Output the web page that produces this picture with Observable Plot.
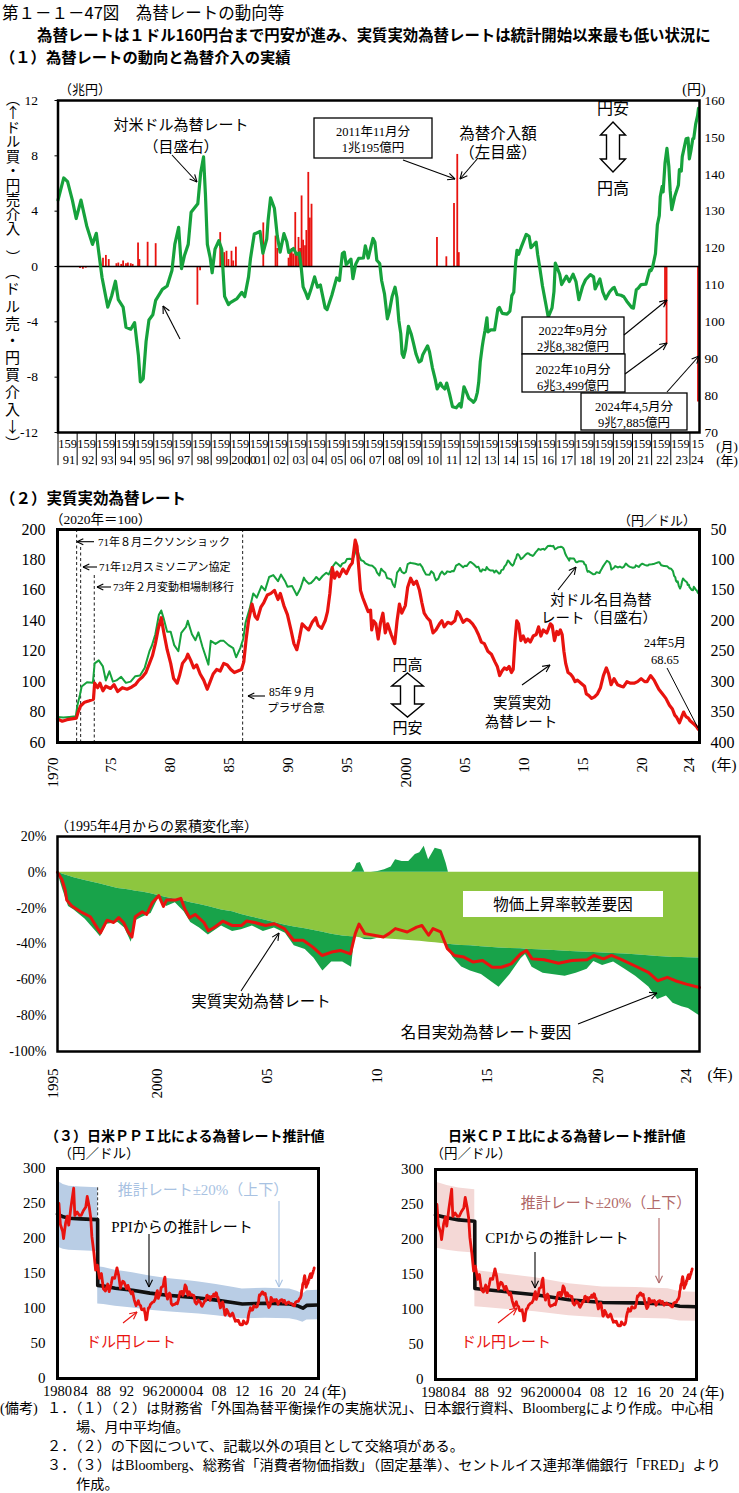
<!DOCTYPE html>
<html lang="ja"><head><meta charset="utf-8">
<script src="https://cdn.jsdelivr.net/npm/d3@7"></script>
<script src="https://cdn.jsdelivr.net/npm/@observablehq/plot@0.6"></script>
<style>
html,body{margin:0;padding:0;background:#fff;}
#root{position:relative;width:739px;height:1493px;overflow:hidden;background:#fff;}
.vt{position:absolute;writing-mode:vertical-rl;text-orientation:mixed;font-family:'Noto Sans CJK JP',sans-serif;line-height:1;white-space:nowrap;color:#000;}
.up{text-orientation:upright;}
</style></head><body><div id="root"></div>
<script>
// ================= DATA =================
// Yen per US dollar (monthly averages, year fraction, yen)
const usdJpy = [
[1970.0,358],[1970.5,359],[1971.0,358],[1971.55,357],[1971.7,338],[1971.9,322],[1972.05,308],[1972.5,301],[1973.0,302],[1973.15,270],[1973.5,265],[1973.85,275],[1974.1,298],[1974.4,283],[1974.7,300],[1975.0,298],[1975.4,292],[1975.8,302],[1976.2,300],[1976.6,291],[1977.0,290],[1977.4,277],[1977.8,250],[1978.0,241],[1978.3,222],[1978.6,190],[1978.8,183],[1979.0,196],[1979.3,218],[1979.6,218],[1979.9,240],[1980.25,250],[1980.5,220],[1980.9,210],[1981.05,200],[1981.4,222],[1981.7,232],[1981.95,219],[1982.3,243],[1982.8,272],[1983.0,233],[1983.4,238],[1983.8,233],[1984.1,233],[1984.5,240],[1984.9,245],[1985.15,260],[1985.5,245],[1985.75,230],[1985.95,203],[1986.3,180],[1986.6,155],[1986.9,162],[1987.3,143],[1987.6,150],[1987.95,128],[1988.3,125],[1988.7,135],[1988.95,124],[1989.3,135],[1989.5,144],[1989.9,143],[1990.3,158],[1990.6,147],[1990.9,129],
[1991.0,133],[1991.3,139],[1991.5,138],[1991.75,133],[1991.95,128],[1992.2,133],[1992.5,126],[1992.8,121],[1993.0,124],[1993.3,112],[1993.6,104],[1993.8,107],[1994.0,111],[1994.15,106],[1994.4,104],[1994.55,98.5],[1994.8,98],[1995.0,99.8],[1995.2,90.8],[1995.3,83.7],[1995.45,84.6],[1995.6,94.7],[1995.75,100.5],[1995.95,101.9],[1996.1,105.8],[1996.45,108.8],[1996.7,109.7],[1996.95,113.9],[1997.1,121],[1997.3,125.6],[1997.45,114.4],[1997.6,117.9],[1997.8,121],[1997.95,129.7],[1998.3,132],[1998.45,140.4],[1998.6,144.7],[1998.7,134.5],[1998.8,121],[1998.95,117.3],[1999.05,113.3],[1999.2,119.7],[1999.4,122],[1999.55,119.7],[1999.7,106.9],[1999.9,104.7],[2000.0,105.2],[2000.35,106.3],[2000.6,108],[2000.75,106.8],[2000.95,112.2],[2001.05,117.1],[2001.25,123.8],[2001.55,124.5],[2001.7,118.6],[2001.9,122.4],[2001.97,127.4],[2002.1,133.6],[2002.3,130.8],[2002.45,123.3],[2002.6,118.9],[2002.8,123.9],[2002.95,121.7],[2003.05,118.8],[2003.3,119.9],[2003.45,118.3],[2003.6,118.7],[2003.7,114.8],[2003.8,109.5],[2003.95,107.7],[2004.05,106.3],[2004.2,108.6],[2004.4,112.2],[2004.55,109.4],[2004.7,110],[2004.95,103.8],[2005.05,103.3],[2005.3,107.2],[2005.55,111.9],[2005.7,111.2],[2005.85,118.5],[2005.95,118.9],[2006.05,115.5],[2006.3,117],[2006.4,111.7],[2006.55,115.7],[2006.7,117.2],[2006.95,117.3],[2007.05,120.6],[2007.2,117.3],[2007.45,122.6],[2007.55,121.6],[2007.65,116.7],[2007.8,115.8],[2007.9,111.2],[2008.05,107.6],[2008.2,100.8],[2008.3,102.7],[2008.45,106.9],[2008.6,109.4],[2008.7,106.6],[2008.8,100.3],[2008.9,96.8],[2008.97,91.3],[2009.05,90.4],[2009.15,92.5],[2009.3,98.8],[2009.45,96.6],[2009.55,94.5],[2009.7,91.2],[2009.85,89.1],[2009.97,89.5],[2010.05,91.1],[2010.3,93.5],[2010.4,91.9],[2010.55,87.6],[2010.7,84.4],[2010.8,81.8],[2010.97,83.4],[2011.05,82.6],[2011.2,81.8],[2011.3,83.4],[2011.45,80.4],[2011.6,77],[2011.8,76.7],[2011.97,77.8],[2012.05,76.9],[2012.2,82.4],[2012.3,81.3],[2012.45,79.3],[2012.6,78.7],[2012.7,78.2],[2012.8,78.9],[2012.9,80.9],[2012.97,83.6],[2013.05,89.1],[2013.15,93.1],[2013.2,94.8],[2013.3,97.7],[2013.4,101.1],[2013.45,97.3],[2013.6,97.8],[2013.8,97.8],[2013.97,103.5],[2014.05,103.9],[2014.2,102.3],[2014.45,102.1],[2014.6,102.9],[2014.7,107.1],[2014.8,108],[2014.9,116.2],[2014.97,119.4],[2015.05,118.3],[2015.2,120.4],[2015.45,123.7],[2015.6,123.2],[2015.7,120.1],[2015.97,121.6],[2016.05,118.2],[2016.15,115],[2016.3,109.7],[2016.45,105.5],[2016.6,101.3],[2016.8,103.8],[2016.9,108.2],[2016.97,115.9],[2017.05,114.9],[2017.2,112.9],[2017.3,110.1],[2017.55,112.4],[2017.7,110.9],[2017.9,112.9],[2018.05,110.9],[2018.2,106],[2018.4,109.7],[2018.55,111.4],[2018.8,112.8],[2018.97,112.2],[2019.05,108.9],[2019.3,111.6],[2019.45,108.1],[2019.6,106.2],[2019.8,108.1],[2019.97,109.1],[2020.05,109.3],[2020.2,107.4],[2020.4,107.2],[2020.55,106.8],[2020.7,105.6],[2020.97,103.8],[2021.05,103.7],[2021.2,108.7],[2021.3,109.1],[2021.45,110.1],[2021.7,110.2],[2021.9,114],[2021.97,113.9],[2022.05,114.8],[2022.2,118.5],[2022.3,126.3],[2022.4,128.8],[2022.45,133.9],[2022.55,136.7],[2022.6,135.2],[2022.7,143.1],[2022.8,147],[2022.9,142.1],[2022.97,135.5],[2023.05,130.4],[2023.2,133.9],[2023.4,137.1],[2023.45,141.3],[2023.55,140.9],[2023.6,144.8],[2023.8,149.6],[2023.9,149.8],[2023.97,144.2],[2024.05,146.3],[2024.15,149.6],[2024.2,149.7],[2024.3,153.6],[2024.4,155.9],[2024.45,157.9]
];
// FX intervention (trillion yen, + = dollar buying / yen selling)
const intervT = [1992.15,1992.3,1992.45,1993.2,1993.35,1993.5,1993.65,1994.05,1994.15,1994.3,1994.4,1994.55,1994.65,1994.8,1994.9,1995.18,1995.25,1995.68,1996.1,1998.28,1998.42,1999.47,1999.68,1999.8,1999.9,2000.06,2000.15,2000.29,2001.72,2002.36,2002.45,2003.04,2003.12,2003.2,2003.28,2003.39,2003.47,2003.56,2003.64,2003.72,2003.8,2003.9,2003.97,2004.07,2004.15,2004.24,2010.79,2011.28,2011.68,2011.85,2011.93,2022.7,2022.78,2024.42];
const intervV = [-0.15,-0.2,-0.12,0.55,0.6,0.8,0.5,0.2,0.25,0.15,0.4,0.2,0.25,0.2,0.15,1.7,0.5,1.75,1.65,-2.8,-0.3,2.45,1.0,1.1,0.5,1.1,0.4,1.4,3.15,2.2,1.3,0.6,1.1,1.3,0.9,3.9,0.9,2.1,1.3,5.1,1.9,1.5,2.6,6.8,3.5,4.5,2.1,0.7,4.55,8.1,1.0,-2.84,-5.6,-9.79];
// Real effective exchange rate (2020 = 100)
const reer = [
[1970.0,75.5],[1970.4,74],[1970.8,75],[1971.2,75.5],[1971.6,76],[1971.75,80],[1971.95,84],[1972.3,86.5],[1972.7,87.5],[1973.05,88.5],[1973.15,99],[1973.4,96],[1973.6,99],[1973.85,94],[1974.1,97],[1974.5,95.5],[1974.8,98],[1975.1,93.5],[1975.5,96],[1975.9,95],[1976.3,96.5],[1976.6,98],[1976.9,101],[1977.2,103],[1977.5,106],[1977.8,112],[1978.05,117],[1978.3,125],[1978.55,135],[1978.8,142],[1979.0,133],[1979.3,121],[1979.6,112],[1979.85,102],[1980.15,99],[1980.35,104],[1980.6,112],[1980.9,115],[1981.05,118],[1981.3,114],[1981.55,109],[1981.8,111],[1982.1,105],[1982.4,101],[1982.7,95],[1982.95,100],[1983.2,105],[1983.5,108],[1983.8,107],[1984.1,112],[1984.4,111],[1984.7,108],[1985.0,106],[1985.3,107],[1985.6,108],[1985.8,113],[1986.0,128],[1986.2,140],[1986.5,151],[1986.75,143],[1986.95,141],[1987.25,149],[1987.5,152],[1987.8,157],[1988.1,158],[1988.4,160],[1988.7,154],[1988.9,158],[1989.2,150],[1989.5,144],[1989.8,134],[1990.05,125],[1990.3,121],[1990.5,128],[1990.75,138],[1991.0,136],[1991.3,134],[1991.6,139],[1991.9,142],[1992.1,137],[1992.4,135],[1992.7,140],[1992.9,146],[1993.1,158],[1993.3,175],[1993.5,168],[1993.7,172],[1993.9,169],[1994.2,174],[1994.5,171],[1994.8,176],[1995.0,178],[1995.25,193],[1995.4,189],[1995.55,175],[1995.7,160],[1995.9,155],[1996.1,151],[1996.35,146],[1996.55,147],[1996.65,134],[1996.8,140],[1997.0,138],[1997.2,128],[1997.4,139],[1997.6,145],[1997.8,132],[1998.0,138],[1998.3,131],[1998.6,125],[1998.8,140],[1999.0,151],[1999.2,145],[1999.5,150],[1999.7,162],[1999.95,168],[2000.2,164],[2000.45,166],[2000.7,160],[2000.9,152],[2001.1,145],[2001.35,142],[2001.6,140],[2001.85,132],[2002.1,134],[2002.4,138],[2002.6,140],[2002.8,136],[2003.1,139],[2003.4,138],[2003.7,140],[2003.9,146],[2004.1,144],[2004.4,139],[2004.7,141],[2004.95,140],[2005.2,138],[2005.45,135],[2005.7,131],[2005.95,126],[2006.2,125],[2006.5,120],[2006.8,118],[2007.1,113],[2007.3,110],[2007.5,104],[2007.7,107],[2007.9,109],[2008.1,108],[2008.3,110],[2008.5,106],[2008.65,108],[2008.8,127],[2008.95,140],[2009.1,138],[2009.3,127],[2009.5,130],[2009.7,126],[2009.9,128],[2010.1,126],[2010.35,130],[2010.6,131],[2010.8,136],[2011.0,130],[2011.2,134],[2011.5,132],[2011.8,138],[2011.95,137],[2012.15,127],[2012.35,133],[2012.5,131],[2012.65,134],[2012.8,131],[2012.95,120],[2013.1,112],[2013.3,106],[2013.5,105],[2013.7,103],[2013.9,100],[2014.1,101],[2014.4,99],[2014.7,97],[2014.85,92],[2015.05,91],[2015.3,89],[2015.55,90],[2015.8,92],[2016.05,96],[2016.3,104],[2016.55,109],[2016.75,105],[2016.95,98],[2017.2,102],[2017.5,98],[2017.8,97],[2018.0,96.5],[2018.3,100],[2018.6,99],[2018.9,99],[2019.2,100],[2019.5,102],[2019.8,100],[2020.0,100],[2020.3,104],[2020.6,101],[2020.8,98],[2021.0,95],[2021.3,92],[2021.6,89],[2021.9,84.5],[2022.15,82],[2022.35,78],[2022.5,76.7],[2022.75,73],[2022.95,77],[2023.1,80],[2023.3,77],[2023.5,76],[2023.65,74.3],[2023.85,73],[2024.0,72],[2024.2,70.5],[2024.35,68.65]
];
// Event dates (panel 2 dashed lines)
const eventT = [1971.62, 1971.96, 1973.12, 1985.7];
// Decomposition of REER change since April 1995 (%)
const ceT = [1995.25,1995.5,1995.75,1996.0,1996.5,1997.0,1997.2,1997.5,1998.0,1998.3,1998.6,1998.8,1999.1,1999.5,1999.85,2000.2,2000.6,2001.0,2001.3,2001.7,2002.1,2002.7,2003.2,2003.6,2004.1,2004.6,2005.1,2005.6,2006.0,2006.5,2006.9,2007.3,2007.7,2008.2,2008.6,2008.75,2008.85,2009.0,2009.2,2009.5,2009.8,2010.1,2010.4,2010.6,2010.9,2011.2,2011.5,2011.7,2011.9,2012.1,2012.4,2012.7,2012.9,2013.0,2013.2,2013.6,2014.0,2014.5,2015.0,2015.3,2015.8,2016.3,2016.5,2016.8,2017.3,2017.8,2018.3,2018.8,2019.3,2019.6,2020.0,2020.5,2021.0,2021.5,2022.1,2022.5,2022.9,2023.2,2023.6,2023.9,2024.4];
const cePrice = [0,-1,-2,-3,-4.5,-6,-6.5,-7.5,-9,-9.5,-10,-10.5,-11,-12,-13,-14,-15,-16,-17,-18,-19,-21,-22,-23.5,-25,-26.5,-28,-29.5,-30.5,-31.5,-32.5,-33.5,-34.5,-35.5,-36,-36,-36.2,-36.5,-36.5,-36.6,-36.8,-37,-37.3,-37.5,-37.8,-38,-38.3,-38.5,-38.8,-39,-39.3,-39.7,-40,-40.2,-40.4,-40.8,-41,-41.5,-42,-42.2,-42.5,-42.7,-42.9,-43,-43.3,-43.6,-44,-44.3,-44.6,-44.8,-45,-45.3,-45.6,-46,-46.5,-47,-47.3,-47.5,-47.6,-47.7,-47.8];
const ceNominal = [0,-9,-17,-18,-21.5,-27,-29.5,-21.5,-19,-21.5,-29,-16.5,-14,-11,-1,-5,-2,-6,-11,-13,-16,-9,-11,-8.5,-5,-6.5,-3,-4.5,-10.5,-11.5,-15.5,-21.5,-15.5,-14.5,-17,2,5,5.5,-1,-1,0.5,1.5,3,7,6,6,10,11,14.5,7,13.5,12.5,5,-3,-7,-12,-14,-15.5,-19.5,-22,-14.5,-5.5,-3,-10,-13,-13.5,-14,-12,-9.5,-5,-7,-4.7,-8.4,-12,-17.5,-24,-21.7,-25.5,-27.4,-28.3,-32.2];
const ceReal = [[1995.25,0],[1995.45,-4],[1995.6,-10],[1995.67,-15.5],[1995.9,-18.8],[1996.3,-22],[1996.74,-24.8],[1997.07,-31.4],[1997.2,-33.8],[1997.5,-26.7],[1997.8,-28],[1998.03,-25.3],[1998.25,-28],[1998.46,-33.3],[1998.63,-36.1],[1998.78,-24.8],[1999.1,-22],[1999.3,-23.5],[1999.55,-17],[1999.85,-13],[2000.06,-19],[2000.2,-15.5],[2000.6,-15.5],[2000.85,-14.5],[2001.04,-20.7],[2001.25,-25.3],[2001.5,-23.5],[2001.9,-28],[2002.1,-32.6],[2002.35,-30.9],[2002.75,-27.3],[2003.2,-29.7],[2003.6,-29.7],[2003.83,-27.2],[2004.2,-28],[2004.7,-29.7],[2005.1,-28.7],[2005.55,-31.4],[2005.97,-37.9],[2006.4,-37.9],[2006.83,-41.6],[2007.26,-46.4],[2007.7,-44.5],[2008.1,-43.6],[2008.55,-45.5],[2008.77,-34.2],[2008.94,-28.9],[2009.2,-34.2],[2009.62,-35.1],[2010.05,-36.1],[2010.3,-34.2],[2010.59,-31.4],[2011.13,-33.3],[2011.56,-30.6],[2011.8,-29.7],[2012.1,-35.1],[2012.3,-31.4],[2012.65,-33.3],[2012.95,-42.6],[2013.27,-46.4],[2013.7,-47.3],[2014.13,-50.1],[2014.55,-49.2],[2014.99,-53],[2015.4,-53],[2015.85,-51.1],[2016.28,-45.5],[2016.54,-43.6],[2016.8,-48.3],[2017.35,-48.8],[2018.0,-50.7],[2018.6,-49.2],[2019.29,-48.8],[2019.61,-46.4],[2020.04,-48.3],[2020.4,-46.4],[2020.79,-48.3],[2021.43,-52],[2022.08,-55.8],[2022.5,-60.5],[2022.94,-58.6],[2023.3,-60.5],[2023.8,-62.4],[2024.4,-64.3]];
// Estimated rates from PPI / CPI ratios (yen per dollar)
const ppiEstimate = [[1980.0,235],[1981,231],[1982,229],[1984,228],[1986.95,227],[1986.97,133],[1988,132],[1990,129],[1993,126],[1996,122],[1999,119],[2002,117],[2004.5,115],[2007.5,112],[2010.3,108.5],[2012,106.5],[2016,107.5],[2020.2,106.5],[2021.5,104],[2022.5,100.5],[2023.2,104.5],[2025.1,105]];
const cpiEstimate = [[1980.0,235],[1982,231],[1984,228],[1986.8,226],[1986.82,130],[1988,129],[1991.5,126],[1997.3,121],[2003.1,114],[2008.9,110],[2014.7,109.5],[2020.3,108],[2022.3,104.6],[2025.1,104]];
// Tick values and labels
const p1LeftTicks = [12,8,4,0,-4,-8,-12];
const p1RightTicks = [160,150,140,130,120,110,100,90,80,70];
const p1Years = d3.range(1991, 2025);
const p2LeftTicks = [200,180,160,140,120,100,80,60];
const p2RightTicks = [50,100,150,200,250,300,350,400];
const p2XTicks = [1970,1975,1980,1985,1990,1995,2000,2005,2010,2015,2020,2024];
const p2XLabels = ["1970","75","80","85","90","95","2000","05","10","15","20","24"];
const p3YTicks = [20,0,-20,-40,-60,-80,-100];
const p3XTicks = [1995.25,2000,2005,2010,2015,2020,2024];
const p3XLabels = ["1995","2000","05","10","15","20","24"];
const p45YTicks = [0,50,100,150,200,250,300];
const p45XTicks = [1980,1984,1988,1992,1996,2000,2004,2008,2012,2016,2020,2024];
const p45XLabels = ["1980","84","88","92","96","2000","04","08","12","16","20","24"];

// ================= STYLE =================
const SERIF = "'Liberation Serif','Noto Sans CJK JP',serif";
const GOTHIC = "'Noto Sans CJK JP','Noto Sans',sans-serif";
const RED = "#e8130f", GREEN = "#16a23c", LGREEN = "#8dc63f", DGREEN = "#18a34a";
const baseStyle = {fontFamily: SERIF, fontSize: "14px", color: "#000", background: "transparent", overflow: "visible"};
const root = document.getElementById("root");
function place(el, left, top) {
  const d = document.createElement("div");
  d.style.cssText = `position:absolute;left:${left}px;top:${top}px;`;
  d.appendChild(el); root.appendChild(d);
}
const yr2 = y => y === 2000 ? "2000" : String(y % 100).padStart(2, "0");

// ================= PANEL 1 =================
const yenToP1 = v => (v - 115) * 12 / 45;
const interv = intervT.map((t, i) => ({t, v: intervV[i]}));
const p1 = Plot.plot({
  width: 739, height: 397, marginTop: 20, marginBottom: 45, marginLeft: 57.5, marginRight: 40,
  style: baseStyle,
  x: {domain: [1991, 2024.5], axis: null},
  y: {domain: [-12, 12], axis: null},
  marks: [
    Plot.ruleX(interv, {x: "t", y1: 0, y2: "v", stroke: RED, strokeWidth: 1.8}),
    Plot.ruleY([0], {stroke: "#000", strokeWidth: 1.6}),
    Plot.line(usdJpy.filter(d => d[0] >= 1991), {x: d => d[0], y: d => yenToP1(d[1]), stroke: GREEN, strokeWidth: 3.2}),
    Plot.axisY({anchor: "left", label: null, ticks: p1LeftTicks, tickFormat: d => String(d), tickSize: 3, tickPadding: 17, fontSize: 13.5}),
    Plot.axisY({anchor: "right", label: null, ticks: p1RightTicks.map(yenToP1), tickFormat: d => String(Math.round(d * 45 / 12 + 115)), tickSize: 0, tickPadding: 5, fontSize: 13.5}),
    Plot.frame({stroke: "#000", strokeWidth: 2.5}),
    Plot.ruleX(d3.range(1991, 2025), {x: d => d, y1: -12, y2: -14.4, stroke: "#000", strokeWidth: 1}),
    Plot.text(p1Years.filter(d => d < 2024), {x: d => d + 0.5, y: -12.82, text: () => "159", fontSize: 12.5}),
    Plot.text([2024], {x: d => d, y: -12.82, text: () => "15", textAnchor: "start", dx: 1.5, fontSize: 12.5}),
    Plot.text(p1Years.filter(d => d !== 2000 && d < 2024), {x: d => d + 1, y: -14.02, text: yr2, textAnchor: "end", dx: -2, fontSize: 12.5}),
    Plot.text([2000, 2024], {x: d => d, y: -14.02, text: yr2, textAnchor: "start", dx: 1, fontSize: 12.5})
  ]
});
place(p1, 0, 80);

// ================= PANEL 2 =================
const yenToP2 = v => 220 - 0.4 * v;
const eventTop = [200, 188.2, 169.8, 200]; // layout: where each dashed line starts
const p2 = Plot.plot({
  width: 739, height: 283, marginTop: 20, marginBottom: 50, marginLeft: 57, marginRight: 40,
  style: baseStyle,
  x: {domain: [1970, 2024.45], axis: null},
  y: {domain: [60, 200], axis: null},
  marks: [
    Plot.ruleX(eventT, {x: d => d, y1: (d, i) => eventTop[i], y2: 60, stroke: "#333", strokeWidth: 1.1, strokeDasharray: "3,2.5"}),
    Plot.line(usdJpy, {x: d => d[0], y: d => yenToP2(d[1]), stroke: GREEN, strokeWidth: 2}),
    Plot.line(reer, {x: d => d[0], y: d => d[1], stroke: RED, strokeWidth: 3.2}),
    Plot.axisY({anchor: "left", label: null, ticks: p2LeftTicks, tickFormat: d => String(d), tickSize: 0, tickPadding: 12, fontSize: 16}),
    Plot.axisY({anchor: "right", label: null, ticks: p2RightTicks.map(yenToP2), tickFormat: d => String(Math.round((220 - d) / 0.4)), tickSize: 0, tickPadding: 11, fontSize: 16}),
    Plot.frame({stroke: "#000", strokeWidth: 3}),
    Plot.text(p2XTicks, {x: d => d, frameAnchor: "bottom", dy: 15, rotate: -90, textAnchor: "end", text: (d, i) => p2XLabels[i], fontSize: 15})
  ]
});
place(p2, 0, 509);

// ================= PANEL 3 =================
const ceTable = ceT.map((t, i) => ({t, p: cePrice[i], n: ceNominal[i]}));
const p3 = Plot.plot({
  width: 739, height: 280, marginTop: 20, marginBottom: 45, marginLeft: 57, marginRight: 40,
  style: baseStyle,
  x: {domain: [1995.25, 2024.4], axis: null},
  y: {domain: [-100, 20], axis: null},
  marks: [
    Plot.areaY(ceTable, {x: "t", y1: 0, y2: "p", fill: LGREEN}),
    Plot.areaY(ceTable, {x: "t", y1: "p", y2: d => d.p + Math.min(d.n, 0), fill: DGREEN}),
    Plot.areaY(ceTable, {x: "t", y1: 0, y2: d => Math.max(d.n, 0), fill: DGREEN}),
    Plot.line(ceReal, {x: d => d[0], y: d => d[1], stroke: RED, strokeWidth: 3}),
    Plot.axisY({anchor: "left", label: null, ticks: p3YTicks, tickFormat: d => d + "%", tickSize: 0, tickPadding: 11, fontSize: 14}),
    Plot.frame({stroke: "#000", strokeWidth: 2.5}),
    Plot.text(p3XTicks, {x: d => d, frameAnchor: "bottom", dy: 17, rotate: -90, textAnchor: "end", text: (d, i) => p3XLabels[i], fontSize: 15})
  ]
});
place(p3, 0, 816);

// ================= PANELS 4 & 5 =================
function ratePlot(estimate, bandFill, extra) {
  return Plot.plot({
    width: 330, height: 270, marginTop: 20, marginBottom: 40, marginLeft: 57, marginRight: 12,
    style: baseStyle,
    x: {domain: [1980, 2025.2], axis: null},
    y: {domain: [0, 300], axis: null},
    marks: [
      Plot.areaY(estimate, {x: d => d[0], y1: d => d[1] * 0.8, y2: d => d[1] * 1.2, fill: bandFill}),
      ...extra,
      Plot.line(estimate, {x: d => d[0], y: d => d[1], stroke: "#111", strokeWidth: 3.6}),
      Plot.line(usdJpy.filter(d => d[0] >= 1980), {x: d => d[0], y: d => d[1], stroke: RED, strokeWidth: 2.8}),
      Plot.axisY({anchor: "left", label: null, ticks: p45YTicks, tickFormat: d => String(d), tickSize: 0, tickPadding: 12, fontSize: 15}),
      Plot.axisX({anchor: "bottom", label: null, ticks: p45XTicks, tickFormat: d => p45XLabels[p45XTicks.indexOf(d)], tickSize: 0, tickPadding: 7, fontSize: 14.5}),
      Plot.frame({stroke: "#000", strokeWidth: 3})
    ]
  });
}
const stepT = ppiEstimate[4][0];
const p4 = ratePlot(ppiEstimate, "#b9cde5", [
  Plot.ruleX([stepT], {x: d => d, y1: ppiEstimate[4][1] * 1.2, y2: ppiEstimate[4][1], stroke: "#333", strokeWidth: 1, strokeDasharray: "3,2"})
]);
place(p4, 0, 1148);
const p5 = ratePlot(cpiEstimate, "#f4d8d6", []);
place(p5, 378, 1149);

// ================= ANNOTATIONS (overlay) =================
const ov = d3.create("svg").attr("width", 739).attr("height", 1493)
  .style("position", "absolute").style("left", "0px").style("top", "0px").style("overflow", "visible");
function T(x, y, s, o = {}) {
  ov.append("text").attr("x", x).attr("y", y).text(s)
    .attr("text-anchor", o.anchor || "middle").attr("dominant-baseline", "central")
    .attr("font-family", o.family || SERIF).attr("font-size", o.size || 14)
    .attr("font-weight", o.weight || "normal").attr("fill", o.fill || "#000")
    .attr("letter-spacing", o.ls || 0);
}
function L(x1, y1, x2, y2, o = {}) {
  ov.append("line").attr("x1", x1).attr("y1", y1).attr("x2", x2).attr("y2", y2)
    .attr("stroke", o.stroke || "#000").attr("stroke-width", o.width || 1.1);
}
function A(x1, y1, x2, y2, o = {}) {
  L(x1, y1, x2, y2, o);
  const a = Math.atan2(y2 - y1, x2 - x1), h = o.head || 8, w = 0.45;
  L(x2, y2, x2 - h * Math.cos(a - w), y2 - h * Math.sin(a - w), o);
  L(x2, y2, x2 - h * Math.cos(a + w), y2 - h * Math.sin(a + w), o);
}
function B(x, y, w, h, o = {}) {
  ov.append("rect").attr("x", x).attr("y", y).attr("width", w).attr("height", h)
    .attr("fill", o.fill || "#fff").attr("stroke", o.stroke === undefined ? "#000" : o.stroke).attr("stroke-width", o.width || 1.3);
}
function DA(cx, y1, y2, s, hw, hl) {
  const p = [[cx, y1], [cx + hw, y1 + hl], [cx + s, y1 + hl], [cx + s, y2 - hl], [cx + hw, y2 - hl], [cx, y2], [cx - hw, y2 - hl], [cx - s, y2 - hl], [cx - s, y1 + hl], [cx - hw, y1 + hl]];
  ov.append("polygon").attr("points", p.map(q => q.join(",")).join(" ")).attr("fill", "#fff").attr("stroke", "#000").attr("stroke-width", 1.4);
}

// Headings
T(2, 12, "第１－１－47図　為替レートの動向等", {anchor: "start", family: GOTHIC, size: 16.5});
T(37, 34, "為替レートは１ドル160円台まで円安が進み、実質実効為替レートは統計開始以来最も低い状況に", {anchor: "start", family: GOTHIC, size: 15.4, weight: "bold"});
T(0, 56, "（１）為替レートの動向と為替介入の実績", {anchor: "start", family: GOTHIC, size: 15.3, weight: "bold"});

// Panel 1 annotations
T(85, 89, "（兆円）", {size: 13});
T(694, 89, "(円)", {size: 14});
T(181, 125, "対米ドル為替レート", {size: 15});
T(181, 147, "（目盛右）", {size: 15});
A(172, 155, 197, 182);
A(180, 339, 163, 306);
B(314, 118, 118, 40);
T(373, 132, "2011年11月分", {size: 12.5});
T(373, 148, "1兆195億円", {size: 12.5});
A(403, 160, 455, 179);
T(498, 133, "為替介入額", {size: 15.5});
T(498, 152, "（左目盛）", {size: 15.5});
A(478, 158, 460, 179);
T(613, 108, "円安", {size: 16});
DA(613, 122, 172, 6.5, 12.5, 13);
T(613, 188, "円高", {size: 16});
B(522, 317, 102, 37);
T(573, 331, "2022年9月分", {size: 12.5});
T(573, 347, "2兆8,382億円", {size: 12.5});
B(522, 354, 103, 38);
T(573, 370, "2022年10月分", {size: 12.5});
T(573, 386, "6兆3,499億円", {size: 12.5});
B(581, 393, 106, 37);
T(634, 407, "2024年4,5月分", {size: 12.5});
T(634, 423, "9兆7,885億円", {size: 12.5});
A(624, 335, 667, 300);
A(625, 374, 667, 343);
A(667, 392, 699, 356);
T(727, 446, "(月)", {size: 13});
T(727, 460, "(年)", {size: 13});

// Panel 2 annotations
T(0, 497, "（２）実質実効為替レート", {anchor: "start", family: GOTHIC, size: 15.5, weight: "bold"});
T(50, 519, "（2020年＝100）", {anchor: "start", size: 13.5});
T(657, 520, "（円／ドル）", {size: 13});
A(94, 541.7, 77, 541.7, {head: 7});
T(98, 541.7, "71年８月ニクソンショック", {anchor: "start", size: 11});
A(97, 567, 83, 567, {head: 7});
T(99, 567, "71年12月スミソニアン協定", {anchor: "start", size: 11});
A(111, 587, 97, 587, {head: 7});
T(113, 587, "73年２月変動相場制移行", {anchor: "start", size: 11});
A(265, 696, 248, 696, {head: 7});
T(292, 692, "85年９月", {size: 11.5});
T(296, 708, "プラザ合意", {size: 11.5});
T(407.5, 665, "円高", {size: 15});
DA(407.5, 673, 717, 7, 15.8, 13);
T(407.5, 728, "円安", {size: 15});
T(601, 600, "対ドル名目為替", {size: 14.5});
T(599, 618, "レート（目盛右）", {size: 14.5});
A(558, 590, 576, 567);
T(522, 703, "実質実効", {size: 14.5});
T(521, 722, "為替レート", {size: 14.5});
A(522, 685, 550, 665);
T(665, 643, "24年5月", {size: 12});
T(665, 660, "68.65", {size: 12.5});
L(667, 668, 698, 728, {width: 1});
T(724, 765, "(年)", {size: 15});

// Panel 3 annotations
T(55, 826, "（1995年4月からの累積変化率）", {anchor: "start", size: 14});
B(463, 891, 200, 26, {stroke: "none"});
T(563, 904, "物価上昇率較差要因", {size: 15.5});
T(261, 1001, "実質実効為替レート", {size: 15.5});
A(241, 991, 279, 933);
T(486, 1032.6, "名目実効為替レート要因", {size: 15.5});
A(578, 1024, 657, 993);
T(720, 1075, "(年)", {size: 15});

// Panel 4 annotations
T(45, 1135, "（３）日米ＰＰＩ比による為替レート推計値", {anchor: "start", family: GOTHIC, size: 14, weight: "bold"});
T(99, 1153, "（円／ドル）", {size: 13.5});
T(203, 1190, "推計レート±20%（上下）", {size: 15, fill: "#a8c2e2"});
A(279, 1201, 279, 1287, {stroke: "#a8c2e2"});
T(182, 1227, "PPIからの推計レート", {size: 15});
A(149, 1234, 149, 1287);
T(131, 1342, "ドル円レート", {size: 15, fill: RED});
A(123, 1323, 137, 1312, {stroke: RED});
T(334, 1392, "(年)", {size: 14.5});

// Panel 5 annotations
T(448, 1135, "日米ＣＰＩ比による為替レート推計値", {anchor: "start", family: GOTHIC, size: 14, weight: "bold"});
T(471, 1153, "（円／ドル）", {size: 13.5});
T(606, 1203, "推計レート±20%（上下）", {size: 15, fill: "#b06868"});
A(659, 1218, 659, 1283, {stroke: "#b06868"});
T(557, 1238, "CPIからの推計レート", {size: 15});
A(535, 1252, 535, 1288);
T(506, 1342, "ドル円レート", {size: 15, fill: RED});
A(498, 1323, 517, 1308, {stroke: RED});
T(712, 1393, "(年)", {size: 14.5});

// Notes
const NS = 14.2;
T(0, 1408, "(備考)", {anchor: "start", size: NS});
T(47, 1408, "１．（１）（２）は財務省「外国為替平衡操作の実施状況」、日本銀行資料、Bloombergにより作成。中心相", {anchor: "start", size: NS});
T(76, 1427, "場、月中平均値。", {anchor: "start", size: NS});
T(47, 1446, "２．（２）の下図について、記載以外の項目として交絡項がある。", {anchor: "start", size: NS});
T(47, 1465, "３．（３）はBloomberg、総務省「消費者物価指数」（固定基準）、セントルイス連邦準備銀行「FRED」より", {anchor: "start", size: NS});
T(76, 1484, "作成。", {anchor: "start", size: NS});

root.appendChild(ov.node());

// Vertical axis caption of panel 1
const v1 = document.createElement("div");
v1.className = "vt"; v1.style.cssText += "left:5px;top:91px;font-size:14.5px;";
v1.innerHTML = "（<span class='up'>↑</span>ドル買・円売介入　）";
root.appendChild(v1);
const v2 = document.createElement("div");
v2.className = "vt"; v2.style.cssText += "left:5px;top:264px;font-size:15px;letter-spacing:2.2px;";
v2.innerHTML = "（ドル売・円買介入<span class='up'>↓</span>）";
root.appendChild(v2);
</script></body></html>
